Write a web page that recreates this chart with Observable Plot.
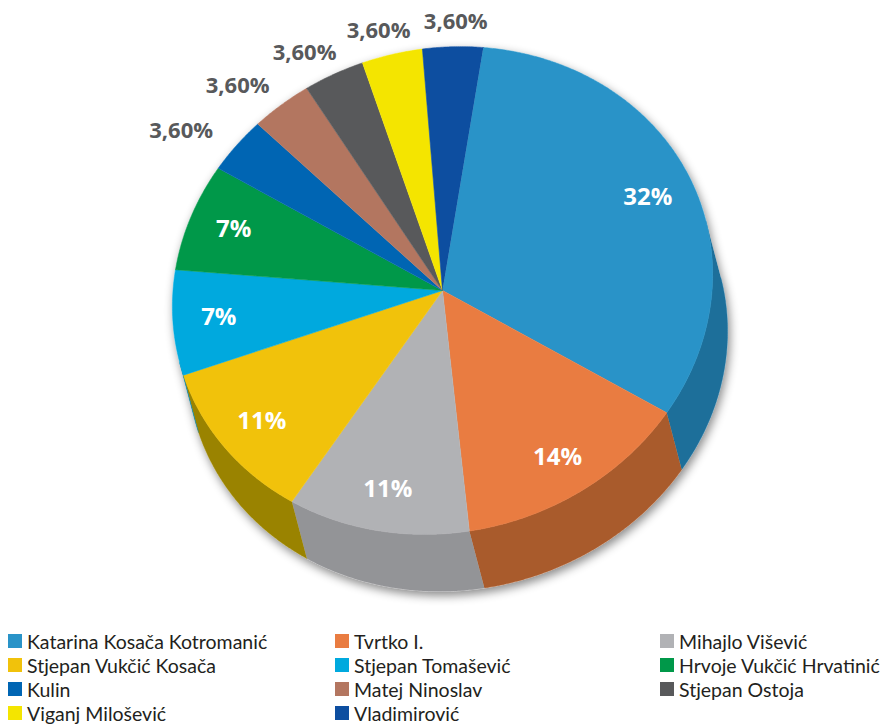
<!DOCTYPE html>
<html><head><meta charset="utf-8">
<script src="https://cdn.jsdelivr.net/npm/d3@7"></script>
<script src="https://cdn.jsdelivr.net/npm/@observablehq/plot@0.6"></script>
<style>
body{margin:0;background:#fff;font-family:Lato,"Open Sans",sans-serif;}
#chart svg{display:block}
#legend{display:grid;grid-template-columns:327px 325px 240px;padding-left:8px;}
.item{display:flex;align-items:center;height:24px;font-size:19.5px;color:#231f20;white-space:nowrap}
.sw{width:14px;height:14px;margin-right:5px;flex:none}
</style></head><body>
<div id="chart"></div><div id="legend"></div>
<script>
const names = ["Katarina Kosača Kotromanić","Tvrtko I.","Mihajlo Višević","Stjepan Vukčić Kosača","Stjepan Tomašević","Hrvoje Vukčić Hrvatinić","Kulin","Matej Ninoslav","Stjepan Ostoja","Viganj Milošević","Vladimirović"];
const shares = [32, 14, 11, 11, 7, 7, 3.6, 3.6, 3.6, 3.6, 3.6];
const labels = ["32%","14%","11%","11%","7%","7%","3,60%","3,60%","3,60%","3,60%","3,60%"];
const topColors = ["#2993c8","#e97c41","#b1b2b5","#f1c20b","#00a9de","#009849","#0065b3","#b37660","#58595b","#f4e500","#0d4ea0"];
const sideColors = ["#1d6f9a","#a95b2c","#939497","#9a8300","#0080a8","#00703a","#004c88","#875948","#404143","#b8ac00","#0a3a78"];

// layout (perspective of the tilted disc)
const W = 881, H = 629;
const CX = 442, CY = 290;
const startDeg = 7;
const shift = [15, 57];
function proj(t, r) {
  const s = Math.sin(t), c = Math.cos(t);
  return [CX + r * (270 * s + 8 * c), CY + r * (-9 * s - 243.7 * c)];
}
function tangent(t) {
  const s = Math.sin(t), c = Math.cos(t);
  return [270 * c - 8 * s, -9 * c + 243.7 * s];
}
const total = d3.sum(shares);
const rad = Math.PI / 180;
let acc = 0;
const slices = shares.map((v, i) => {
  const a0 = (startDeg + 360 * acc / total) * rad;
  acc += v;
  const a1 = (startDeg + 360 * acc / total) * rad;
  return {i, a0, a1, mid: (a0 + a1) / 2};
});

const tops = [], bands = [];
for (const s of slices) {
  const n = Math.max(4, Math.ceil((s.a1 - s.a0) / (0.4 * rad)));
  const arc = d3.range(n + 1).map(k => s.a0 + (s.a1 - s.a0) * k / n);
  tops.push({key: "t" + s.i, color: topColors[s.i], x: CX, y: CY});
  for (const t of arc) { const [x, y] = proj(t, 1); tops.push({key: "t" + s.i, color: topColors[s.i], x, y}); }
  const front = arc.filter(t => { const [tx, ty] = tangent(t); return tx * shift[1] - ty * shift[0] <= 0; });
  if (front.length >= 2) {
    for (const t of front) { const [x, y] = proj(t, 1); bands.push({key: "b" + s.i, color: sideColors[s.i], x, y}); }
    for (const t of front.slice().reverse()) { const [x, y] = proj(t, 1); bands.push({key: "b" + s.i, color: sideColors[s.i], x: x + shift[0], y: y + shift[1]}); }
  }
}
const silhouette = [...bands, ...tops].map(d => ({...d, key: "s" + d.key}));

const labelData = slices.map(s => {
  const outside = shares[s.i] < 5;
  const [x0, y0] = proj(s.mid, 1);
  const dx = x0 - CX, dy = y0 - CY;
  return outside
    ? {x: CX + 1.27 * dx, y: CY + 1.1 * dy, text: labels[s.i], out: true}
    : {x: CX + 0.83 * dx, y: CY + 0.83 * dy, text: labels[s.i], out: false};
});

const chart = Plot.plot({
  width: W, height: H, margin: 0,
  x: {domain: [0, W], range: [0, W], axis: null},
  y: {domain: [0, H], range: [0, H], axis: null},
  color: {type: "identity"},
  marks: [
    Plot.line(silhouette, {x: "x", y: "y", z: "key", fill: "#ffffff", stroke: "#ffffff", strokeWidth: 1, imageFilter: "drop-shadow(2px 4px 5px rgba(0,0,0,0.45))"}),
    Plot.line(bands, {x: "x", y: "y", z: "key", fill: "color", stroke: "color", strokeWidth: 0.6}),
    Plot.line(tops, {x: "x", y: "y", z: "key", fill: "color", stroke: "color", strokeWidth: 0.6}),
    Plot.text(labelData.filter(d => !d.out), {x: "x", y: "y", text: "text", fill: "#ffffff", fontSize: 24, fontWeight: "bold", fontFamily: "Open Sans"}),
    Plot.text(labelData.filter(d => d.out), {x: "x", y: "y", text: "text", fill: "#58595b", fontSize: 22, fontWeight: "bold", fontFamily: "Open Sans"})
  ]
});
document.getElementById("chart").appendChild(chart);

const legend = d3.select("#legend");
names.forEach((n, i) => {
  const it = legend.append("div").attr("class", "item");
  it.append("span").attr("class", "sw").style("background", topColors[i]);
  it.append("span").text(n);
});
</script>
</body></html>
